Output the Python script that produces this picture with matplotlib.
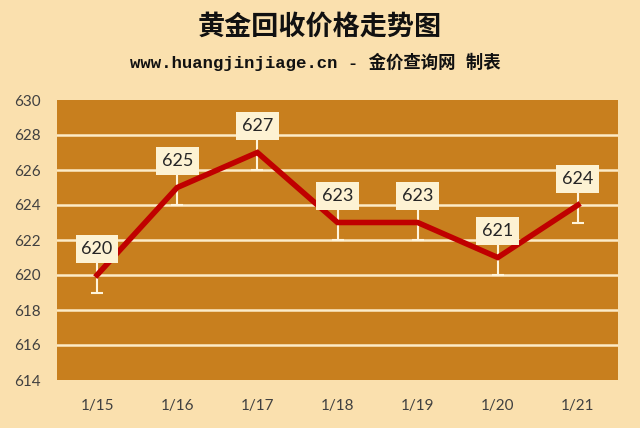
import matplotlib
matplotlib.use("Agg")
import matplotlib.pyplot as plt
import numpy as np

dates = ["1/15", "1/16", "1/17", "1/18", "1/19", "1/20", "1/21"]
prices = [620, 625, 627, 623, 623, 621, 624]
yticks = [614, 616, 618, 620, 622, 624, 626, 628, 630]
title = "黄金回收价格走势图"
subtitle_en = "www.huangjinjiage.cn - "
subtitle_cn = "金价查询网 制表"

plt.rcParams['font.family'] = ['Noto Sans CJK SC', 'DejaVu Sans']

fig = plt.figure(figsize=(6.4, 4.28), dpi=100)
fig.patch.set_facecolor("#FAE0AE")
ax = fig.add_axes([57/640, 1-380/428, (618-57)/640, 280/428])
ax.set_facecolor("#C87F1E")

x = np.arange(len(dates))
ax.set_xlim(-0.5, len(dates)-0.5)
ax.set_ylim(yticks[0], yticks[-1])
ax.set_yticks(yticks)
ax.set_xticks(x)
ax.set_xticklabels(dates)
for y in yticks[1:-1]:
    ax.axhline(y, color="#FCEBC8", lw=1.8, zorder=1)

ax.errorbar(x, prices, yerr=1, fmt="none", ecolor="#FFF5DC", elinewidth=1.5,
            capsize=4, capthick=1.5, zorder=2)
ax.plot(x, prices, color="#C00000", lw=4, solid_joinstyle="miter", zorder=3)

for xi, p in zip(x, prices):
    ax.text(xi, p + 1.5, f"{p}", ha="center", va="center", fontsize=13,
            family=["Lato", "DejaVu Sans"], color="#262626", zorder=5,
            bbox=dict(boxstyle="square,pad=0.32", fc="#FDF2D3", ec="none"))

for s in ax.spines.values():
    s.set_visible(False)
ax.tick_params(axis="y", length=0, pad=12, labelsize=11, labelcolor="#404040")
ax.tick_params(axis="x", length=0, pad=14, labelsize=11, labelcolor="#404040")
for lab in ax.get_xticklabels() + ax.get_yticklabels():
    lab.set_family(["Lato", "DejaVu Sans"])

fig.text(0.5, 1-27/428, title, ha="center", va="center", fontsize=19.5,
         fontweight="bold", color="#111111")
fig.text(0.492, 1-62/428, subtitle_en + subtitle_cn, ha="center", va="center",
         fontsize=12.5, fontweight="bold", color="#111111",
         family=["Liberation Mono", "Noto Sans CJK SC"])

fig.savefig("out.png", dpi=100, facecolor=fig.get_facecolor())
